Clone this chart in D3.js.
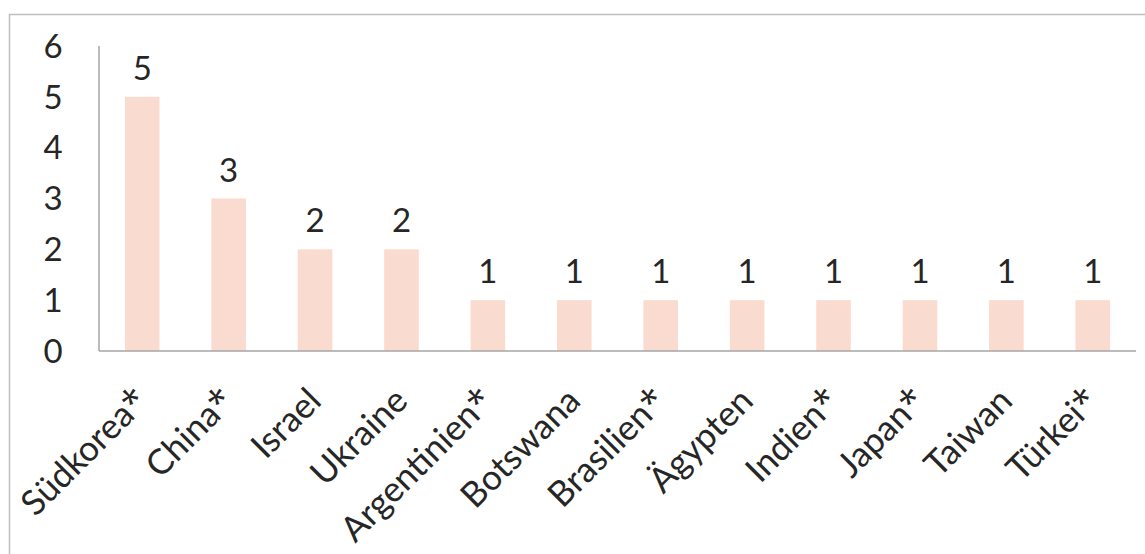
<!DOCTYPE html>
<html><head><meta charset="utf-8">
<script src="https://cdn.jsdelivr.net/npm/d3@7"></script>
<style>body{margin:0;background:#fff}svg{display:block}text{font-family:Lato,"Open Sans",sans-serif;fill:#262626}</style>
</head><body>
<script>
const categories = ["Südkorea*","China*","Israel","Ukraine","Argentinien*","Botswana","Brasilien*","Ägypten","Indien*","Japan*","Taiwan","Türkei*"];
const values = [5,3,2,2,1,1,1,1,1,1,1,1];
const yTicks = [0,1,2,3,4,5,6];

const W=1145,H=554;
const svg=d3.select("body").append("svg").attr("width",W).attr("height",H);
svg.append("rect").attr("x",9.5).attr("y",14.5).attr("width",W).attr("height",H).attr("fill","none").attr("stroke","#bfbfbf").attr("stroke-width",1.5);

const pL=99,pR=1136,pT=46,pB=351;
const x=d3.scaleBand().domain(categories).range([pL,pR]).paddingInner(0.6).paddingOuter(0.3);
const y=d3.scaleLinear().domain([0,6]).range([pB,pT]);

svg.selectAll("rect.bar").data(values).join("rect").attr("class","bar")
  .attr("x",(d,i)=>x(categories[i])).attr("width",x.bandwidth())
  .attr("y",d=>y(d)).attr("height",d=>y(0)-y(d)).attr("fill","#fadbcf");

svg.append("line").attr("x1",pL).attr("x2",pL).attr("y1",pT).attr("y2",pB).attr("stroke","#a6a6a6").attr("stroke-width",1.5);
svg.append("line").attr("x1",pL).attr("x2",pR).attr("y1",pB).attr("y2",pB).attr("stroke","#a6a6a6").attr("stroke-width",1.5);

const yAx=d3.axisLeft(y).tickValues(yTicks).tickFormat(d3.format("d")).tickSize(0).tickPadding(0);
const gy=svg.append("g").attr("transform",`translate(${pL},0)`).call(yAx);
gy.select(".domain").remove();
gy.selectAll("text").attr("x",-46).attr("text-anchor","middle").attr("dy","0.34em").style("font-size","33px").attr("fill","#262626");

svg.selectAll("text.val").data(values).join("text").attr("class","val")
  .attr("x",(d,i)=>x(categories[i])+x.bandwidth()/2).attr("y",d=>y(d)-17)
  .attr("text-anchor","middle").style("font-size","33px").text(d=>d);

const xAx=d3.axisBottom(x).tickSize(0).tickPadding(0);
const gx=svg.append("g").attr("transform",`translate(0,${pB})`).call(xAx);
gx.select(".domain").remove();
gx.selectAll("text").attr("y",0).attr("dy",0).attr("text-anchor","end")
  .attr("transform","translate(8,52) rotate(-45)").style("font-size","35px").attr("fill","#262626")
  .each(function(d){
    const t=d3.select(this);
    if(d.endsWith("*")){
      t.text(null);
      t.append("tspan").text(d.slice(0,-1));
      t.append("tspan").text("*").style("font-family","'Open Sans',sans-serif").style("font-size","36px");
    }
  });
</script>
</body></html>
